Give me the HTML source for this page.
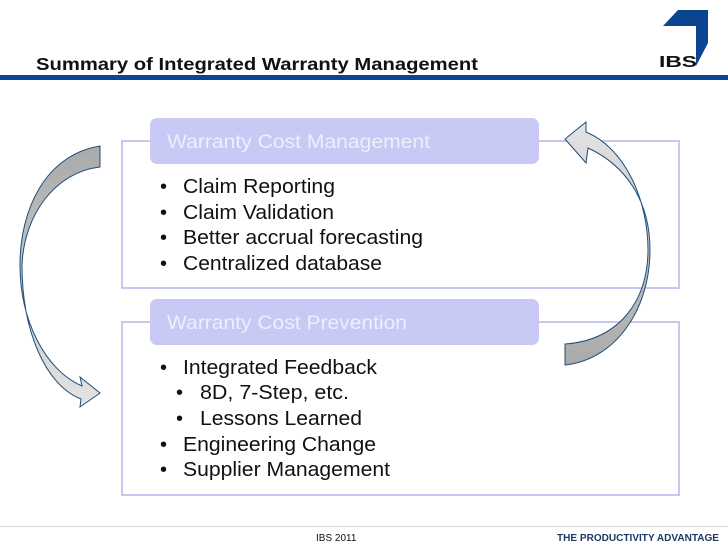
<!DOCTYPE html>
<html><head><style>
html,body{margin:0;padding:0;background:#fff;}
svg{display:block;}
</style></head><body>
<svg width="728" height="546" viewBox="0 0 728 546" xmlns="http://www.w3.org/2000/svg" font-family="Liberation Sans, Arial, sans-serif">
<defs>
<linearGradient id="gl" x1="0" y1="0" x2="0" y2="1"><stop offset="0" stop-color="#a9a9a9"/><stop offset="1" stop-color="#e4e4e4"/></linearGradient>
<linearGradient id="gr" x1="0" y1="1" x2="0" y2="0"><stop offset="0" stop-color="#a9a9a9"/><stop offset="1" stop-color="#e4e4e4"/></linearGradient>
</defs>
<rect width="728" height="546" fill="#fff"/>
<text x="36" y="70" font-size="17.5" font-weight="bold" fill="#111" textLength="442" lengthAdjust="spacingAndGlyphs">Summary of Integrated Warranty Management</text>
<rect x="0" y="75" width="728" height="5" fill="#0b4592"/>
<polygon points="663,26 678,10 708,10 708,43 696,66 696,26" fill="#0b4592"/>
<text x="659" y="67" font-size="16" font-weight="bold" fill="#111" textLength="38" lengthAdjust="spacingAndGlyphs">IBS</text>

<rect x="122" y="141" width="557" height="147" fill="none" stroke="#c7c7f0" stroke-width="2"/>
<rect x="150" y="118" width="389" height="46" rx="7" fill="#c9c9f5"/>
<text x="167" y="148" font-size="19" fill="#eeeefc" textLength="263" lengthAdjust="spacingAndGlyphs">Warranty Cost Management</text>
<g font-size="20" fill="#111">
<text x="160" y="193">•</text><text x="183" y="193" textLength="152" lengthAdjust="spacingAndGlyphs">Claim Reporting</text>
<text x="160" y="219">•</text><text x="183" y="219" textLength="151" lengthAdjust="spacingAndGlyphs">Claim Validation</text>
<text x="160" y="244">•</text><text x="183" y="244" textLength="240" lengthAdjust="spacingAndGlyphs">Better accrual forecasting</text>
<text x="160" y="270">•</text><text x="183" y="270" textLength="199" lengthAdjust="spacingAndGlyphs">Centralized database</text>
</g>

<rect x="122" y="322" width="557" height="173" fill="none" stroke="#c7c7f0" stroke-width="2"/>
<rect x="150" y="299" width="389" height="46" rx="7" fill="#c9c9f5"/>
<text x="167" y="329" font-size="19" fill="#eeeefc" textLength="240" lengthAdjust="spacingAndGlyphs">Warranty Cost Prevention</text>
<g font-size="20" fill="#111">
<text x="160" y="374">•</text><text x="183" y="374" textLength="194" lengthAdjust="spacingAndGlyphs">Integrated Feedback</text>
<text x="176" y="399">•</text><text x="200" y="399" textLength="149" lengthAdjust="spacingAndGlyphs">8D, 7-Step, etc.</text>
<text x="176" y="425">•</text><text x="200" y="425" textLength="162" lengthAdjust="spacingAndGlyphs">Lessons Learned</text>
<text x="160" y="451">•</text><text x="183" y="451" textLength="193" lengthAdjust="spacingAndGlyphs">Engineering Change</text>
<text x="160" y="476">•</text><text x="183" y="476" textLength="207" lengthAdjust="spacingAndGlyphs">Supplier Management</text>
</g>

<path d="M100,146 C45,155 20,210 20,265 C20,320 45,370 82,386 L80,377 L100,393 L80,407 L81,399 C45,385 22,330 22,265 C24,215 55,172 100,167 Z" fill="url(#gl)" stroke="#1f4e79" stroke-width="1"/>
<path d="M565,365 C615,360 650,310 650,250 C650,200 625,165 588,148 L586,163 L565,139 L586,122 L586,132 C625,148 648,200 648,250 C648,300 620,340 565,344 Z" fill="url(#gr)" stroke="#1f4e79" stroke-width="1"/>

<rect x="0" y="526" width="728" height="1" fill="#d8d8d8"/>
<text x="316" y="541" font-size="10" fill="#111">IBS 2011</text>
<text x="719" y="541" font-size="10.5" font-weight="bold" fill="#1f3864" text-anchor="end" textLength="162" lengthAdjust="spacingAndGlyphs">THE PRODUCTIVITY ADVANTAGE</text>
</svg>
</body></html>
